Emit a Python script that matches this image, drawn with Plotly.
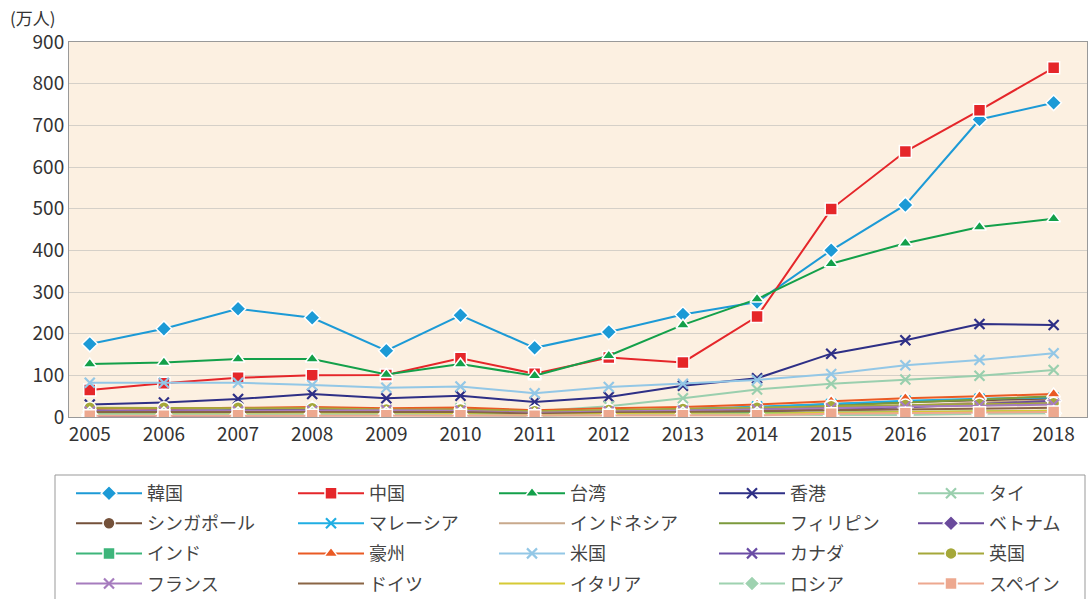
import plotly.graph_objects as go

years = list(range(2005, 2019))

names = ["韓国", "中国", "台湾", "香港", "タイ",
         "シンガポール", "マレーシア", "インドネシア", "フィリピン", "ベトナム",
         "インド", "豪州", "米国", "カナダ", "英国",
         "フランス", "ドイツ", "イタリア", "ロシア", "スペイン"]

korea = [175, 212, 260, 238, 159, 244, 166, 204, 246, 276, 400, 509, 714, 754]
china = [65, 81, 94, 100, 101, 141, 104, 143, 131, 241, 499, 637, 736, 838]
taiwan = [127, 131, 139, 139, 102, 127, 99, 147, 221, 283, 368, 417, 456, 476]
hongkong = [30, 35, 43, 55, 45, 51, 36, 48, 75, 93, 152, 184, 223, 221]
thailand = [12, 13, 17, 19, 18, 21, 14, 26, 45, 66, 80, 90, 99, 113]
singapore = [16, 12, 15, 17, 15, 18, 11, 14, 19, 23, 31, 36, 40, 44]
malaysia = [8, 9, 10, 11, 9, 11, 8, 13, 18, 25, 31, 39, 44, 47]
indonesia = [6, 6, 6, 7, 6, 8, 6, 10, 14, 16, 21, 27, 35, 40]
philippines = [14, 10, 9, 8, 7, 8, 6, 9, 11, 18, 27, 35, 42, 50]
vietnam = [2, 3, 4, 5, 5, 4, 4, 6, 8, 12, 19, 23, 31, 39]
india = [6, 7, 7, 7, 6, 7, 6, 7, 8, 9, 10, 12, 13, 15]
australia = [21, 20, 22, 24, 21, 23, 16, 21, 24, 30, 38, 45, 50, 55]
usa = [82, 82, 82, 77, 70, 73, 57, 72, 80, 89, 103, 124, 137, 153]
canada = [15, 16, 17, 17, 15, 15, 10, 14, 15, 18, 23, 27, 31, 33]
uk = [22, 22, 22, 21, 18, 18, 14, 17, 19, 22, 26, 29, 31, 33]
france = [13, 14, 14, 15, 16, 15, 10, 13, 15, 18, 21, 25, 27, 30]
germany = [12, 12, 12, 13, 12, 12, 8, 11, 12, 14, 16, 18, 20, 22]
italy = [6, 7, 8, 8, 7, 7, 4, 7, 8, 8, 10, 12, 13, 15]
russia = [6, 6, 6, 7, 6, 5, 3, 5, 6, 6, 5, 5, 8, 9]
spain = [3, 3, 4, 4, 4, 4, 3, 4, 4, 4, 8, 9, 10, 12]

series = [korea, china, taiwan, hongkong, thailand,
          singapore, malaysia, indonesia, philippines, vietnam,
          india, australia, usa, canada, uk,
          france, germany, italy, russia, spain]

colors = ["#1C9AD6", "#E5262A", "#13A04A", "#2E2F86", "#9ACFAE",
          "#74513A", "#20AEE3", "#C8A98C", "#7C9A3C", "#6A4A9C",
          "#3DB57A", "#EA5A24", "#93C7E6", "#6A4CA5", "#A5A83A",
          "#A67CBE", "#8A6545", "#D6CA35", "#9ED2B0", "#EDA88F"]

symbols = ["diamond", "square", "triangle-up", "x-thin", "x-thin",
           "circle", "x-thin", None, None, "diamond",
           "square", "triangle-up", "x-thin", "x-thin", "circle",
           "x-thin", None, None, "diamond", "square"]

legend_ids = ["legend", "legend2", "legend3", "legend4", "legend5"]

fig = go.Figure()
for i in range(len(names)):
    sym = symbols[i]
    if sym is None:
        mode = "lines"
        marker = None
    elif sym == "x-thin":
        mode = "lines+markers"
        marker = dict(symbol="x-thin", size=10, color=colors[i],
                      line=dict(color=colors[i], width=2.2))
    else:
        mode = "lines+markers"
        marker = dict(symbol=sym, size=12,
                      color=colors[i], line=dict(color="white", width=1.5))
    fig.add_trace(go.Scatter(
        x=years, y=series[i], name=names[i], mode=mode,
        line=dict(color=colors[i], width=2),
        marker=marker,
        legend=legend_ids[i % 5],
        legendgroup=names[i],
        legendrank=i,
    ))

W, H = 1089, 599
PLOT_L, PLOT_W, PLOT_T, PLOT_B = 69, 1018, 42, 417
PLOT_H = PLOT_B - PLOT_T


def px_x(px):
    return (px - PLOT_L) / PLOT_W


def px_y(py):
    return (PLOT_B - py) / PLOT_H


legend_px = [71, 293, 494, 714, 913]
legend_layout = {}
for c, lid in enumerate(legend_ids):
    legend_layout[lid] = dict(
        orientation="v",
        x=px_x(legend_px[c]), xanchor="left",
        y=px_y(475), yanchor="top",
        itemwidth=66,
        tracegroupgap=3.7,
        borderwidth=0,
        bgcolor="rgba(0,0,0,0)",
        font=dict(size=18, color="#444444"),
        traceorder="grouped",
    )

fig.update_layout(
    width=W, height=H,
    margin=dict(l=PLOT_L, r=W - PLOT_L - PLOT_W, t=PLOT_T, b=H - PLOT_B,
                autoexpand=False),
    paper_bgcolor="white",
    plot_bgcolor="#FCF0E1",
    font=dict(family="Noto Sans CJK JP, Noto Sans, sans-serif", size=18, color="#333333"),
    showlegend=True,
    annotations=[dict(
        text="(万人)", xref="paper", yref="paper", x=px_x(8), y=px_y(17),
        xanchor="left", yanchor="middle", showarrow=False,
        font=dict(size=17, color="#333333"),
    )],
    shapes=[dict(
        type="rect", xref="paper", yref="paper",
        x0=px_x(55), x1=px_x(1085), y0=px_y(475), y1=px_y(640),
        line=dict(color="#999999", width=1), fillcolor="rgba(0,0,0,0)",
        layer="below",
    )],
    **legend_layout,
)

fig.update_xaxes(
    range=[2004.72, 2018.45],
    tickmode="array", tickvals=years, ticktext=[str(y) for y in years],
    showgrid=False, zeroline=False, automargin=False,
    showline=True, linecolor="#999999", linewidth=1, mirror=True,
    ticks="", tickfont=dict(size=19, color="#333333"),
)
fig.update_yaxes(
    range=[0, 900], dtick=100,
    showgrid=True, gridcolor="#D5D0C8", gridwidth=1,
    zeroline=False, automargin=False,
    showline=True, linecolor="#999999", linewidth=1, mirror=True,
    ticks="", tickfont=dict(size=19, color="#333333"),
)

fig.write_html(
    "out.html",
    config={"displayModeBar": False},
    post_script="document.body.style.margin='0';document.body.style.overflow='hidden';",
)
